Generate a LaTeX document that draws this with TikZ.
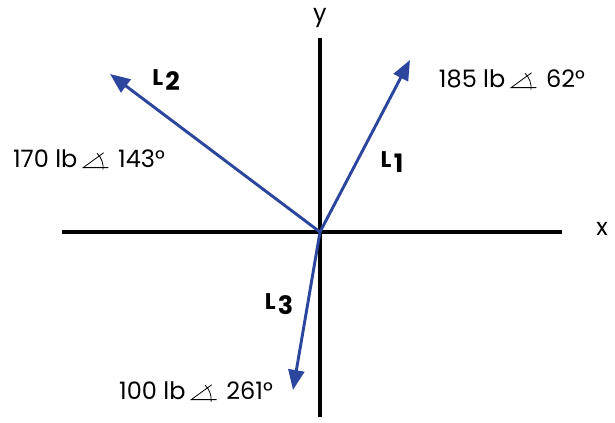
\documentclass[tikz,border=0pt]{standalone}
\usepackage{fontspec}
\setmainfont{Poppins}
\usetikzlibrary{arrows.meta}
\definecolor{forceblue}{RGB}{44,70,158}

\tikzset{
  axis/.style={line width=2.4pt, black},
  force/.style={line width=2.2pt, forceblue, -{Triangle[length=15pt,width=12pt]}},
  magn/.style={font=\fontsize{18}{21}\selectfont, inner sep=0pt},
  lname/.style={font=\bfseries, inner sep=0pt},
}
\newcommand{\lvec}[1]{{\fontsize{17}{20}\selectfont L}\,\raisebox{-0.7ex}{\fontsize{19}{22}\selectfont #1}}
\newcommand{\ang}{\hspace{4pt}\tikz[baseline=0pt, line width=0.6pt]{%
  \draw (19pt,0) -- (0,0) -- (36:19pt);
  \draw (-6:15pt) arc[start angle=-6, end angle=46, radius=15pt];}\hspace{7pt}}

\begin{document}
\begin{tikzpicture}[x=0.75pt,y=-0.75pt]
\useasboundingbox (0,0) rectangle (615,423);

% axes
\coordinate (O) at (320,232);
\coordinate (xl) at (62,232);
\coordinate (xr) at (562,232);
\coordinate (yt) at (320,38);
\coordinate (yb) at (320,417);
\draw[axis] (xl) -- (xr);
\draw[axis] (yt) -- (yb);
\node (xlab) [magn] at (602,229) {x};
\node (ylab) [magn] at (320,18) {y};

% forces
\coordinate (t1) at (410,60);
\coordinate (t2) at (110,74);
\coordinate (t3) at (293,390);
\draw[force] (O) -- (t1);
\draw[force] (O) -- (t2);
\draw[force] (O) -- (t3);

\node (n1) [lname] at (392,162) {\lvec{1}};
\node (n2) [lname] at (166,80) {\lvec{2}};
\node (n3) [lname] at (279,304) {\lvec{3}};

\node (m1) [magn] at (512,80) {185 lb\ang 62°};
\node (m2) [magn] at (89,160) {170 lb\ang 143°};
\node (m3) [magn] at (196,392) {100 lb\ang 261°};
\end{tikzpicture}
\end{document}
